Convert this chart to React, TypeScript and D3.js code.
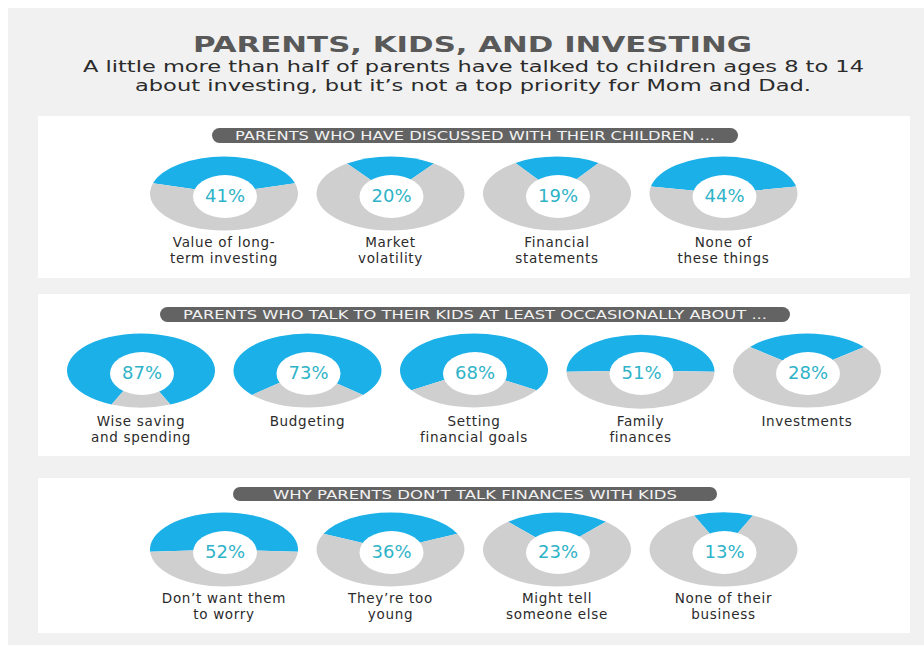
import React from "react";
import * as d3 from "d3";

const TITLE = "PARENTS, KIDS, AND INVESTING";
const SUBTITLE = [
  "A little more than half of parents have talked to children ages 8 to 14",
  "about investing, but it’s not a top priority for Mom and Dad.",
];

const discussedHeader = "PARENTS WHO HAVE DISCUSSED WITH THEIR CHILDREN ...";
const discussedLabels = [
  ["Value of long-", "term investing"],
  ["Market", "volatility"],
  ["Financial", "statements"],
  ["None of", "these things"],
];
const discussedValues = [41, 20, 19, 44];

const talkHeader = "PARENTS WHO TALK TO THEIR KIDS AT LEAST OCCASIONALLY ABOUT ...";
const talkLabels = [
  ["Wise saving", "and spending"],
  ["Budgeting"],
  ["Setting", "financial goals"],
  ["Family", "finances"],
  ["Investments"],
];
const talkValues = [87, 73, 68, 51, 28];

const whyHeader = "WHY PARENTS DON’T TALK FINANCES WITH KIDS";
const whyLabels = [
  ["Don’t want them", "to worry"],
  ["They’re too", "young"],
  ["Might tell", "someone else"],
  ["None of their", "business"],
];
const whyValues = [52, 36, 23, 13];

const BLUE = "#1bb0e8";
const GREY = "#cfcfcf";
const PCT = "#2fb3c8";
const FONT = "'DejaVu Sans', Verdana, sans-serif";

type Section = {
  header: string;
  labels: string[][];
  values: number[];
  panel: [number, number];
  pill: [number, number, number, number];
  pillText: [number, number];
  cxRange: [number, number];
  cy: number;
  labelY: number;
};

const sections: Section[] = [
  {
    header: discussedHeader,
    labels: discussedLabels,
    values: discussedValues,
    panel: [116, 278],
    pill: [212, 128, 738, 143],
    pillText: [235, 715],
    cxRange: [224, 723.5],
    cy: 193.5,
    labelY: 247,
  },
  {
    header: talkHeader,
    labels: talkLabels,
    values: talkValues,
    panel: [294, 456],
    pill: [160, 307, 790, 322],
    pillText: [183, 767],
    cxRange: [141, 807],
    cy: 370.5,
    labelY: 426,
  },
  {
    header: whyHeader,
    labels: whyLabels,
    values: whyValues,
    panel: [478, 633],
    pill: [233, 487, 717, 501],
    pillText: [273, 677],
    cxRange: [224, 723.5],
    cy: 549.5,
    labelY: 603,
  },
];

const RX = 74;
const RY = 37;
const HOLE_RX = 32;
const HOLE_RY = 21.5;
const LABEL_SIZE = 13.5;
const LABEL_GAP = 16;

const arcGen = d3.arc<d3.PieArcDatum<number>>().innerRadius(0).outerRadius(1);

function Donut({ cx, cy, value }: { cx: number; cy: number; value: number }) {
  const start = (-value / 100) * Math.PI;
  const pie = d3
    .pie<number>()
    .sort(null)
    .value((d) => d)
    .startAngle(start)
    .endAngle(start + 2 * Math.PI);
  const arcs = pie([value, 100 - value]);
  return (
    <g>
      <g transform={`translate(${cx},${cy}) scale(${RX},${RY})`}>
        <path d={arcGen(arcs[0]) || ""} fill={BLUE} />
        <path d={arcGen(arcs[1]) || ""} fill={GREY} />
      </g>
      <ellipse cx={cx + 1} cy={cy + 3} rx={HOLE_RX} ry={HOLE_RY} fill="#fff" />
      <text
        x={cx + 1}
        y={cy + 8.5}
        textAnchor="middle"
        fontFamily={FONT}
        fontSize={18}
        fill={PCT}
      >
        {value}%
      </text>
    </g>
  );
}

export default function App() {
  return (
    <svg
      width={924}
      height={645}
      style={{ position: "absolute", left: 0, top: 0, display: "block" }}
    >
      <rect x={0} y={0} width={924} height={645} fill="#ffffff" />
      <rect x={8} y={8} width={916} height={637} fill="#f1f1f1" />
      <text
        x={472.5}
        y={52}
        textAnchor="middle"
        fontFamily={FONT}
        fontWeight="bold"
        fontSize={21}
        fill="#595959"
        textLength={559}
        lengthAdjust="spacingAndGlyphs"
      >
        {TITLE}
      </text>
      <text
        x={473.5}
        y={72}
        textAnchor="middle"
        fontFamily={FONT}
        fontSize={15.5}
        fill="#2b2b2b"
        textLength={781}
        lengthAdjust="spacingAndGlyphs"
      >
        {SUBTITLE[0]}
      </text>
      <text
        x={473}
        y={91}
        textAnchor="middle"
        fontFamily={FONT}
        fontSize={15.5}
        fill="#2b2b2b"
        textLength={676}
        lengthAdjust="spacingAndGlyphs"
      >
        {SUBTITLE[1]}
      </text>
      {sections.map((s, si) => {
        const x = d3
          .scalePoint<number>()
          .domain(s.values.map((_, i) => i))
          .range(s.cxRange);
        const [px0, py0, px1, py1] = s.pill;
        const ph = py1 - py0;
        return (
          <g key={si}>
            <rect x={38} y={s.panel[0]} width={872} height={s.panel[1] - s.panel[0]} fill="#ffffff" />
            <rect x={px0} y={py0} width={px1 - px0} height={ph} rx={ph / 2} fill="#636363" />
            <text
              x={(s.pillText[0] + s.pillText[1]) / 2}
              y={py0 + ph / 2 + 4.8}
              textAnchor="middle"
              fontFamily={FONT}
              fontSize={13}
              fill="#f2f2f2"
              textLength={s.pillText[1] - s.pillText[0]}
              lengthAdjust="spacingAndGlyphs"
            >
              {s.header}
            </text>
            {s.values.map((v, i) => (
              <g key={i}>
                <Donut cx={x(i) as number} cy={s.cy} value={v} />
                <text
                  x={x(i) as number}
                  y={s.labelY}
                  textAnchor="middle"
                  fontFamily={FONT}
                  fontSize={LABEL_SIZE}
                  letterSpacing={0.7}
                  fill="#2b2b2b"
                >
                  {s.labels[i].map((line, li) => (
                    <tspan key={li} x={x(i) as number} dy={li === 0 ? 0 : LABEL_GAP}>
                      {line}
                    </tspan>
                  ))}
                </text>
              </g>
            ))}
          </g>
        );
      })}
    </svg>
  );
}
